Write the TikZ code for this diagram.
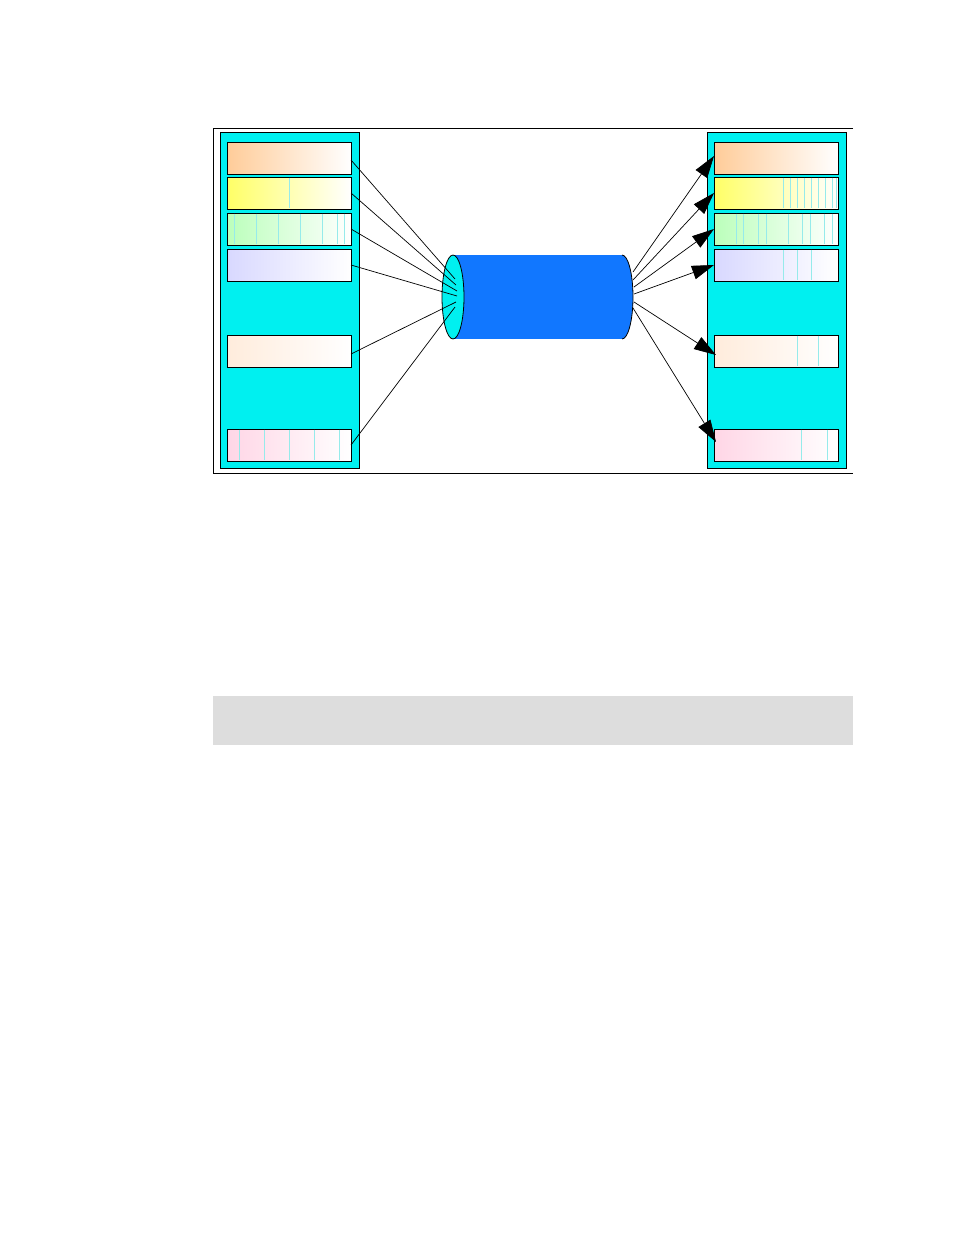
\documentclass[tikz,border=0pt]{standalone}
\usetikzlibrary{arrows.meta,shapes.geometric}
\definecolor{panelcyan}{RGB}{0,240,240}
\definecolor{tubeblue}{RGB}{17,119,255}
\definecolor{stripec}{RGB}{150,235,235}
\definecolor{c1}{RGB}{255,204,153}
\definecolor{c2}{RGB}{255,255,102}
\definecolor{c3}{RGB}{187,255,187}
\definecolor{c4}{RGB}{216,216,255}
\definecolor{c5}{RGB}{255,236,220}
\definecolor{c6}{RGB}{255,214,230}
\definecolor{barg}{RGB}{221,221,221}
\tikzset{
  panel/.style={draw=black, line width=0.9pt, fill=panelcyan, inner sep=0pt, outer sep=0pt, minimum width=139pt, minimum height=336pt},
  slot/.style={draw=black, line width=0.9pt, inner sep=0pt, outer sep=0pt, minimum width=124pt, minimum height=32pt, right color=white, left color=#1},
  stripe/.style={stripec, line width=0.6pt},
  wire/.style={black, line width=0.7pt},
  arrowwire/.style={black, line width=0.7pt, -{Triangle[length=22pt,width=14pt]}}
}
\begin{document}
\begin{tikzpicture}[x=1pt,y=-1pt]
\useasboundingbox (0,0) rectangle (954,1235);
% frame (top, left, bottom)
\draw[line width=0.8pt] (853,128) -- (213,128) -- (213,473) -- (853,473);
% panels
\node[panel] (LP) at (289.5,300) {};
\node[panel] (RP) at (776.5,300) {};
% left slots
\node[slot=c1] (L1) at (289,158) {};
\node[slot=c2] (L2) at (289,193) {};
\node[slot=c3] (L3) at (289,229) {};
\node[slot=c4] (L4) at (289,265) {};
\node[slot=c5] (L5) at (289,351) {};
\node[slot=c6] (L6) at (289,445) {};
% right slots
\node[slot=c1] (R1) at (776,158) {};
\node[slot=c2] (R2) at (776,193) {};
\node[slot=c3] (R3) at (776,229) {};
\node[slot=c4] (R4) at (776,265) {};
\node[slot=c5] (R5) at (776,351) {};
\node[slot=c6] (R6) at (776,445) {};
% stripes
\foreach \x in {289} \draw[stripe] (\x,177.6) -- (\x,208.4);
\foreach \x in {234,256,278,300,322,337,344} \draw[stripe] (\x,213.6) -- (\x,244.4);
\foreach \x in {239,264,289,314,339} \draw[stripe] (\x,429.6) -- (\x,460.4);
\foreach \x in {783,790,797,804,811,818,825,832,836} \draw[stripe] (\x,177.6) -- (\x,208.4);
\foreach \x in {736,743,758,766,788,802,810,824,832} \draw[stripe] (\x,213.6) -- (\x,244.4);
\foreach \x in {783,797,811} \draw[stripe] (\x,249.6) -- (\x,280.4);
\foreach \x in {797,818} \draw[stripe] (\x,335.6) -- (\x,366.4);
\foreach \x in {801,827} \draw[stripe] (\x,429.6) -- (\x,460.4);
% tube
\fill[tubeblue] (453,255) rectangle (622,339);
\draw[fill=tubeblue, line width=0.8pt] (622,255) arc[start angle=-90, end angle=90, x radius=11, y radius=42];
\node[ellipse, draw=black, line width=0.8pt, fill=panelcyan, minimum width=22pt, minimum height=84pt, inner sep=0pt] (TL) at (453,297) {};
% convergence points
\coordinate (a1) at (455,279);
\coordinate (a2) at (456,285);
\coordinate (a3) at (457,291);
\coordinate (a4) at (457,296);
\coordinate (a5) at (456,302);
\coordinate (a6) at (455,307);
\coordinate (b1) at (633,272);
\coordinate (b2) at (633,280);
\coordinate (b3) at (634,287);
\coordinate (b4) at (634,294);
\coordinate (b5) at (634,302);
\coordinate (b6) at (633,308);
% left wires
\draw[wire] (L1.east) ++(0,2) -- (a1);
\draw[wire] (L2.east) -- (a2);
\draw[wire] (L3.east) -- (a3);
\draw[wire] (L4.east) -- (a4);
\draw[wire] (L5.east) ++(0,3) -- (a5);
\draw[wire] (L6.east) -- (a6);
% right wires
\draw[arrowwire] (b1) -- ([yshift=2pt]R1.west);
\draw[arrowwire] (b2) -- (R2.west);
\draw[arrowwire] (b3) -- (R3.west);
\draw[arrowwire] (b4) -- (R4.west);
\draw[arrowwire] (b5) -- ([xshift=2pt,yshift=-4pt]R5.west);
\draw[arrowwire] (b6) -- ([xshift=2pt,yshift=3pt]R6.west);
% gray bar
\fill[barg] (213,696) rectangle (853,745);
\end{tikzpicture}
\end{document}
